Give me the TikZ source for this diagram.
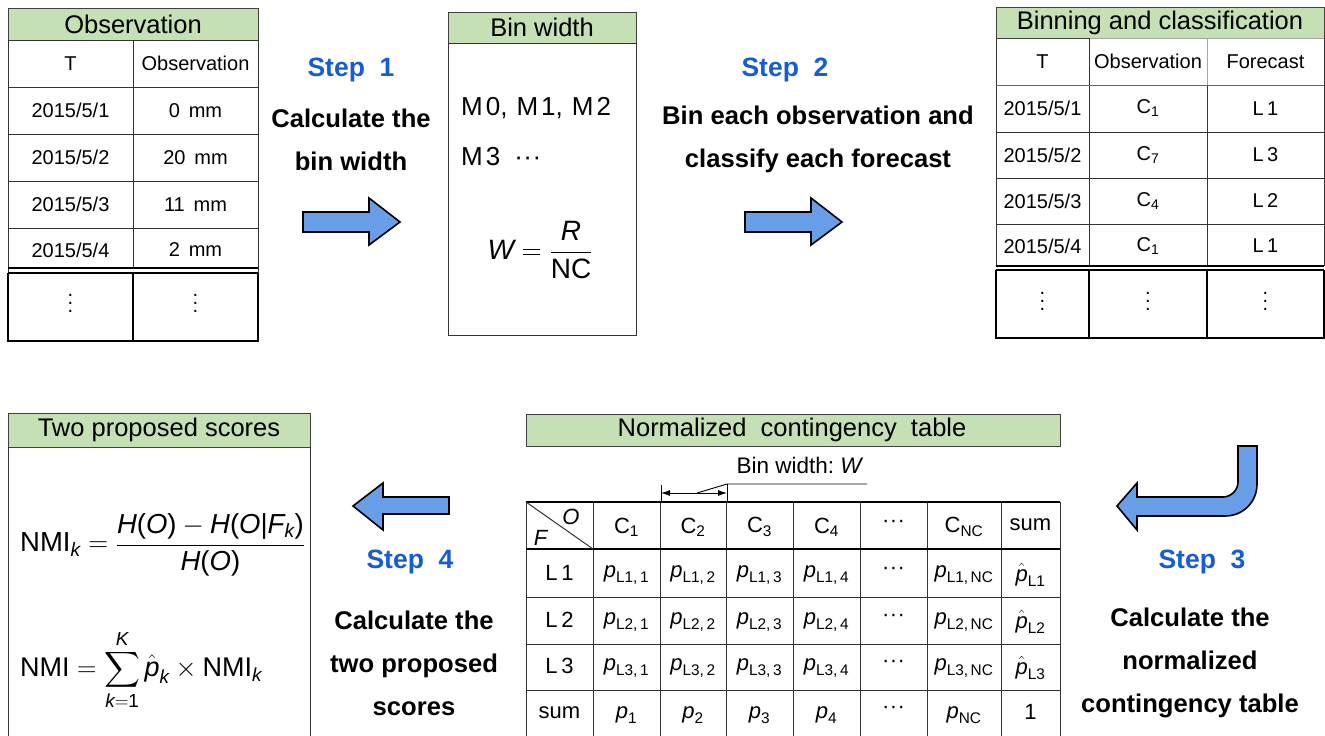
\RequirePackage{fix-cm}
\documentclass[tikz,border=0pt]{standalone}
\usepackage{amsmath}
\usepackage{fontspec}
\setmainfont{Liberation Sans}
\usetikzlibrary{arrows.meta}
\definecolor{hdrgreen}{RGB}{197,224,180}
\definecolor{arrowblue}{RGB}{104,157,232}
\definecolor{stepblue}{RGB}{22,92,210}
\newcommand\fs[1]{\fontsize{#1}{#1}\selectfont}
\newcommand\vv[1]{\text{\itshape #1}}
\newcommand\rr[1]{\text{#1}}
\newcommand\vdts{\vbox{\baselineskip=8pt\lineskiplimit=-20pt\hbox{.}\hbox{.}\hbox{.}}}
\newcommand\hdts{·\kern0.5pt·\kern0.5pt·}
\begin{document}
\begin{tikzpicture}[x=1pt,y=-1pt,
  tbl/.style={draw=black!80,line width=1pt},
  tblthick/.style={draw=black,line width=2pt},
  hdrbox/.style={fill=hdrgreen,draw=black!75,line width=1pt},
  hdrtxt/.style={font=\fs{25.5},inner sep=0pt},
  cell/.style={font=\fs{20},inner sep=0pt},
  dcell/.style={font=\fs{20},inner sep=0pt},
  pcell/.style={font=\fs{22},inner sep=0pt},
  steplbl/.style={font=\fs{26.5}\bfseries,text=stepblue,inner sep=0pt},
  desc/.style={font=\fontsize{25.6}{43}\selectfont\bfseries,align=center,inner sep=0pt},
  barrow/.style={fill=arrowblue,draw=black,line width=1.6pt,line join=miter},
  formula/.style={font=\fs{26},inner sep=0pt}]
\useasboundingbox (0,0) rectangle (1325,736);

% ---------- Observation table ----------
\draw[hdrbox] (8,8) rectangle (258,40);
\node[hdrtxt] (obsH) at (133,24) {Observation};
\draw[tbl] (8,40) rectangle (258,341);
\foreach \y in {87,134,181,228} \draw[tbl] (8,\y) -- (258,\y);
\draw[tbl] (133,40) -- (133,268);
\draw[tblthick] (8,268) -- (258,268);
\draw[tblthick] (8,273) -- (258,273);
\draw[tblthick] (8,273) -- (8,341) -- (258,341) -- (258,273);
\draw[tblthick] (133,273) -- (133,341);
\node[cell] (oT) at (70.5,63.5) {T};
\node[cell] (oO) at (195.5,63.5) {Observation};
\node[cell] (od1) at (70.5,110.5) {2015/5/1};
\node[cell] (od2) at (70.5,157.5) {2015/5/2};
\node[cell] (od3) at (70.5,204.5) {2015/5/3};
\node[cell] (od4) at (70.5,250) {2015/5/4};
\node[cell] (ov1) at (195.5,110.5) {0\, mm};
\node[cell] (ov2) at (195.5,157.5) {20\, mm};
\node[cell] (ov3) at (195.5,204.5) {11\, mm};
\node[cell] (ov4) at (195.5,250) {2\, mm};
\node[dcell] (odot1) at (70.5,303) {\vdts};
\node[dcell] (odot2) at (195.5,303) {\vdts};

% ---------- Step 1 ----------
\node[steplbl] (s1) at (351,70) {Step\ \ 1};
\node[desc] (d1) at (351,139.5) {Calculate the\\bin width};
\draw[barrow] (303,212) -- (369,212) -- (369,198) -- (400,222) -- (369,245) -- (369,232) -- (303,232) -- cycle;

% ---------- Bin width box ----------
\draw[hdrbox] (448,12) rectangle (636,43);
\node[hdrtxt] (bwH) at (542,27.5) {Bin width};
\draw[tbl] (448,43) rectangle (636,335);
\node[formula,anchor=west] (m1) at (461,108) {M\kern3pt0,\kern9pt M\kern3pt1,\kern9pt M\kern3pt2};
\node[formula,anchor=west] (m2) at (461,157) {M\kern3pt3\kern14pt\hdts};
\node[formula,font=\fs{28}] (wf) at (540,250) {$\vv{W}=\dfrac{\vv{R}}{\rr{NC}}$};

% ---------- Step 2 ----------
\node[steplbl] (s2) at (785,70) {Step\ \ 2};
\node[desc] (d2) at (818,139.5) {Bin each observation and\\classify each forecast};
\draw[barrow] (745,212) -- (811,212) -- (811,198) -- (842,222) -- (811,245) -- (811,232) -- (745,232) -- cycle;

% ---------- Binning and classification table ----------
\draw[hdrbox] (996,7) rectangle (1324,38);
\node[hdrtxt] (bcH) at (1160,23) {Binning and classification};
\draw[tbl] (996,38) -- (996,266);
\draw[tbl] (1324,38) -- (1324,266);
\draw[draw=black!35,line width=1pt] (1089,38) -- (1324,38);
\draw[draw=black!35,line width=1pt] (1207,38) -- (1207,85);
\draw[tbl] (1089,38) -- (1089,266);
\draw[tbl] (1207,85) -- (1207,266);
\draw[draw=black!60,line width=1pt] (996,85) -- (1324,85);
\foreach \y in {132,178,224} \draw[tbl] (996,\y) -- (1324,\y);
\draw[tblthick] (996,266) -- (1324,266);
\draw[tblthick] (996,270) -- (1324,270);
\draw[tblthick] (996,270) -- (996,338) -- (1324,338) -- (1324,270);
\draw[tblthick] (1089,270) -- (1089,338);
\draw[tblthick] (1207,270) -- (1207,338);
\node[cell] (bT) at (1042.5,61.5) {T};
\node[cell] (bO) at (1148,61.5) {Observation};
\node[cell] (bF) at (1265.5,61.5) {Forecast};
\node[cell] (bd1) at (1042.5,108.5) {2015/5/1};
\node[cell] (bd2) at (1042.5,155) {2015/5/2};
\node[cell] (bd3) at (1042.5,201) {2015/5/3};
\node[cell] (bd4) at (1042.5,246) {2015/5/4};
\node[cell] (bc1) at (1148,108.5) {C$_{\rr{1}}$};
\node[cell] (bc2) at (1148,155) {C$_{\rr{7}}$};
\node[cell] (bc3) at (1148,201) {C$_{\rr{4}}$};
\node[cell] (bc4) at (1148,246) {C$_{\rr{1}}$};
\node[cell] (bl1) at (1265.5,108.5) {L\,1};
\node[cell] (bl2) at (1265.5,155) {L\,3};
\node[cell] (bl3) at (1265.5,201) {L\,2};
\node[cell] (bl4) at (1265.5,246) {L\,1};
\node[dcell] (bdot1) at (1042.5,301) {\vdts};
\node[dcell] (bdot2) at (1148,301) {\vdts};
\node[dcell] (bdot3) at (1265.5,301) {\vdts};

% ---------- Two proposed scores ----------
\draw[hdrbox] (8,413) rectangle (310,447);
\node[hdrtxt] (tpH) at (159,430) {Two proposed scores};
\draw[tbl] (8,447) -- (8,736);
\draw[tbl] (310,447) -- (310,736);
\node[formula,anchor=west,font=\fs{27.5}] (nmik) at (20,545) {$\rr{NMI}_{\vv{k}}=\dfrac{\vv{H}\rr{(}\vv{O}\rr{)}-\vv{H}\rr{(}\vv{O}\rr{|}\vv{F}_{\vv{k}}\rr{)}}{\vv{H}\rr{(}\vv{O}\rr{)}}$};
\node[formula,anchor=west,font=\fs{27}] (nmi) at (20,670) {$\rr{NMI}=\displaystyle\sum_{\vv{k}=\rr{1}}^{\vv{K}}\hat{\vv{p}}_{\vv{k}}\times\rr{NMI}_{\vv{k}}$};

% ---------- Step 4 ----------
\node[steplbl] (s4) at (410,562) {Step\ \ 4};
\node[desc] (d4) at (414,663) {Calculate the\\two proposed\\scores};
\draw[barrow] (449,497) -- (383,497) -- (383,483) -- (353,506) -- (383,530) -- (383,514) -- (449,514) -- cycle;

% ---------- Normalized contingency table ----------
\draw[hdrbox] (526,414) rectangle (1060,446);
\node[hdrtxt] (nctH) at (792,430) {Normalized\ \ contingency\ \ table};
\node[font=\fs{22.5},inner sep=0pt] (bwlab) at (800,465) {Bin width:\ \textit{W}};
\coordinate (tkL) at (661,485); \coordinate (tkLb) at (661,502);
\coordinate (tkR) at (727,484); \coordinate (tkRb) at (727,502);
\coordinate (arL) at (661,493); \coordinate (arR) at (727,493);
\coordinate (ldA) at (697,493); \coordinate (ldB) at (727,484); \coordinate (ldC) at (867,484);
\draw[line width=0.9pt] (tkL) -- (tkLb);
\draw[line width=0.9pt] (tkR) -- (tkRb);
\draw[line width=0.9pt,{Latex[length=9pt,width=6pt]}-{Latex[length=9pt,width=6pt]}] (arL) -- (arR);
\draw[line width=0.9pt] (ldA) -- (ldB) -- (ldC);
\foreach \x in {526,593,660,726,793,860,927,1001,1060} \draw[tbl] (\x,502) -- (\x,736);
\foreach \y in {597,644,690} \draw[tbl] (526,\y) -- (1060,\y);
\draw[draw=black,line width=2.6pt] (526,502) -- (1060,502);
\draw[draw=black,line width=2.6pt] (526,549) -- (1060,549);
\draw[tbl] (526,502) -- (593,549);
\node[pcell] (cO) at (571,517) {\textit{O}};
\node[pcell] (cF) at (541,538) {\textit{F}};
% header row
\node[pcell] (h1) at (626.5,527) {C$_{\rr{1}}$};
\node[pcell] (h2) at (693,527) {C$_{\rr{2}}$};
\node[pcell] (h3) at (759.5,527) {C$_{\rr{3}}$};
\node[pcell] (h4) at (826.5,527) {C$_{\rr{4}}$};
\node[pcell] (h5) at (893.5,524) {\hdts};
\node[pcell] (h6) at (964,527) {C$_{\rr{NC}}$};
\node[pcell] (h7) at (1030.5,525) {sum};
% rows
\foreach \r/\yy in {1/575,2/622,3/668}{
  \node[pcell] (rL\r) at (559.5,\yy-2) {L\,\r};
  \node[pcell] (p\r a) at (626.5,\yy) {$\vv{p}_{\rr{L\r,\,1}}$};
  \node[pcell] (p\r b) at (693,\yy) {$\vv{p}_{\rr{L\r,\,2}}$};
  \node[pcell] (p\r c) at (759.5,\yy) {$\vv{p}_{\rr{L\r,\,3}}$};
  \node[pcell] (p\r d) at (826.5,\yy) {$\vv{p}_{\rr{L\r,\,4}}$};
  \node[pcell] (p\r e) at (893.5,\yy-4) {\hdts};
  \node[pcell] (p\r f) at (964,\yy) {$\vv{p}_{\rr{L\r,\,NC}}$};
  \node[pcell] (p\r g) at (1030.5,\yy) {$\hat{\vv{p}}_{\rr{L\r}}$};
}
\node[pcell] (sL) at (559.5,713) {sum};
\node[pcell] (q1) at (626.5,715) {$\vv{p}_{\rr{1}}$};
\node[pcell] (q2) at (693,715) {$\vv{p}_{\rr{2}}$};
\node[pcell] (q3) at (759.5,715) {$\vv{p}_{\rr{3}}$};
\node[pcell] (q4) at (826.5,715) {$\vv{p}_{\rr{4}}$};
\node[pcell] (q5) at (893.5,710) {\hdts};
\node[pcell] (q6) at (964,715) {$\vv{p}_{\rr{NC}}$};
\node[pcell] (q7) at (1030.5,712) {1};

% ---------- Step 3 ----------
\draw[barrow] (1238,446) -- (1257,446) -- (1257,484) .. controls (1257,502) and (1243,516) .. (1225,516) -- (1137,516) -- (1137,530) -- (1117,506) -- (1137,483) -- (1137,497) -- (1223,497) .. controls (1231,497) and (1238,490) .. (1238,482) -- cycle;
\node[steplbl] (s3) at (1202,562) {Step\ \ 3};
\node[desc] (d3) at (1190,663) {Calculate the\\normalized\\contingency table};
\end{tikzpicture}
\end{document}
